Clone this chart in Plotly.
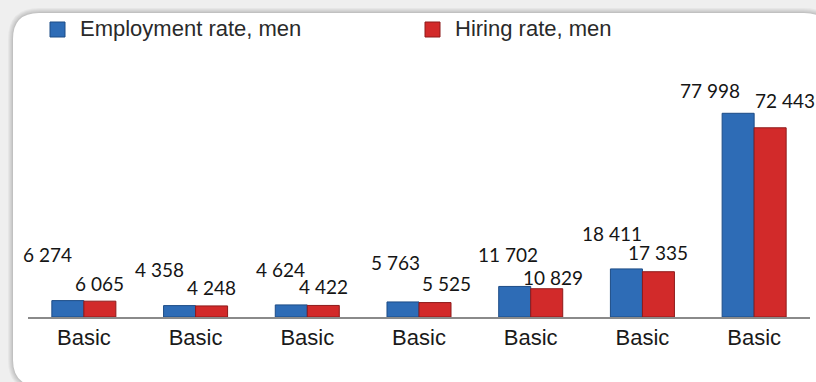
import plotly.graph_objects as go

# ---- data ----
categories = ["Basic", "Basic", "Basic", "Basic", "Basic", "Basic", "Basic"]
employment_men = [6274, 4358, 4624, 5763, 11702, 18411, 77998]
hiring_men = [6065, 4248, 4422, 5525, 10829, 17335, 72443]
series_names = ["Employment rate, men", "Hiring rate, men"]

# ---- styling ----
BLUE = "#2e6cb6"
BLUE_EDGE = "#1d4c86"
RED = "#d22a2a"
RED_EDGE = "#8e1a1a"
W, H = 816, 382
ML, MR, MT, MB = 28, 6, 60, 65
PW, PH = W - ML - MR, H - MT - MB

# value-label offsets in pixels (dx, dy above bar top)
emp_dx = [-20, -20, -11, -8, -7, -14, -28]
emp_dy = [46, 36, 35, 39, 32, 35, 23]
hir_dx = [0, 0, 0, 11, 6, 0, 15]
hir_dy = [18, 18, 19, 19, 11, 19, 27]


def fx(px):
    return (px - ML) / PW


def fy(py):
    return (H - MB - py) / PH


def rounded_rect(x0, y0, x1, y1, r):
    rx, ry = r / PW, r / PH
    a, b, c, d = fx(x0), fy(y0), fx(x1), fy(y1)
    return (f"M{a + rx},{b} L{c - rx},{b} Q{c},{b} {c},{b - ry} "
            f"L{c},{d + ry} Q{c},{d} {c - rx},{d} L{a + rx},{d} "
            f"Q{a},{d} {a},{d + ry} L{a},{b - ry} Q{a},{b} {a + rx},{b} Z")


xs = list(range(len(categories)))

fig = go.Figure()
fig.add_trace(go.Bar(x=xs, y=employment_men, name=series_names[0],
                     marker=dict(color=BLUE, line=dict(color=BLUE_EDGE, width=1)),
                     showlegend=False))
fig.add_trace(go.Bar(x=xs, y=hiring_men, name=series_names[1],
                     marker=dict(color=RED, line=dict(color=RED_EDGE, width=1)),
                     showlegend=False))

label_font = dict(family="Lato, Noto Sans, sans-serif", size=19, color="#151515")


def fmt(v):
    return f"{v:,}".replace(",", " ")


annotations = []
for i, (e, h) in enumerate(zip(employment_men, hiring_men)):
    annotations.append(dict(x=i, y=e, xref="x", yref="y", text=fmt(e), showarrow=False,
                            xshift=-16 + emp_dx[i], yshift=emp_dy[i], font=label_font,
                            xanchor="center", yanchor="middle"))
    annotations.append(dict(x=i, y=h, xref="x", yref="y", text=fmt(h), showarrow=False,
                            xshift=16 + hir_dx[i], yshift=hir_dy[i], font=label_font,
                            xanchor="center", yanchor="middle"))

# legend drawn as swatches + text
legend_font = dict(family="Liberation Sans, Arial, sans-serif", size=22, color="#2a2a2a")
legend_items = [(50, BLUE, BLUE_EDGE, series_names[0]), (425, RED, RED_EDGE, series_names[1])]
shapes = []

# card shadow and card
for k, alpha in enumerate([0.035, 0.035, 0.035, 0.04, 0.05]):
    g = 5 - k
    shapes.append(dict(type="path", xref="paper", yref="paper", layer="below",
                       path=rounded_rect(13 - g, 13 - g, 830 + g, 386 + g, 26 + g),
                       fillcolor=f"rgba(0,0,0,{alpha})", line=dict(width=0)))
shapes.append(dict(type="path", xref="paper", yref="paper", layer="below",
                   path=rounded_rect(13, 13, 830, 386, 26),
                   fillcolor="#ffffff", line=dict(width=0)))

for x0, col, edge, name in legend_items:
    shapes.append(dict(type="rect", xref="paper", yref="paper",
                       x0=fx(x0), x1=fx(x0 + 15), y0=fy(37), y1=fy(22),
                       fillcolor=col, line=dict(color=edge, width=1)))
    annotations.append(dict(x=fx(x0 + 28), y=fy(29), xref="paper", yref="paper",
                            text=name, showarrow=False, xanchor="left", yanchor="middle",
                            font=legend_font))

fig.update_layout(
    width=W, height=H,
    margin=dict(l=ML, r=MR, t=MT, b=MB, pad=0),
    paper_bgcolor="#efefef",
    plot_bgcolor="rgba(0,0,0,0)",
    barmode="group", bargap=0.427, bargroupgap=0,
    annotations=annotations, shapes=shapes,
    showlegend=False,
    xaxis=dict(range=[-0.5, 6.5], tickmode="array", tickvals=xs, ticktext=categories,
               showline=True, linecolor="#8a8a8a", linewidth=2, ticks="",
               showgrid=False, zeroline=False, fixedrange=True,
               tickfont=dict(family="Liberation Sans, Arial, sans-serif", size=22,
                             color="#1a1a1a")),
    yaxis=dict(range=[0, 98400], visible=False, showgrid=False, zeroline=False),
)

fig.write_html("out.html")
